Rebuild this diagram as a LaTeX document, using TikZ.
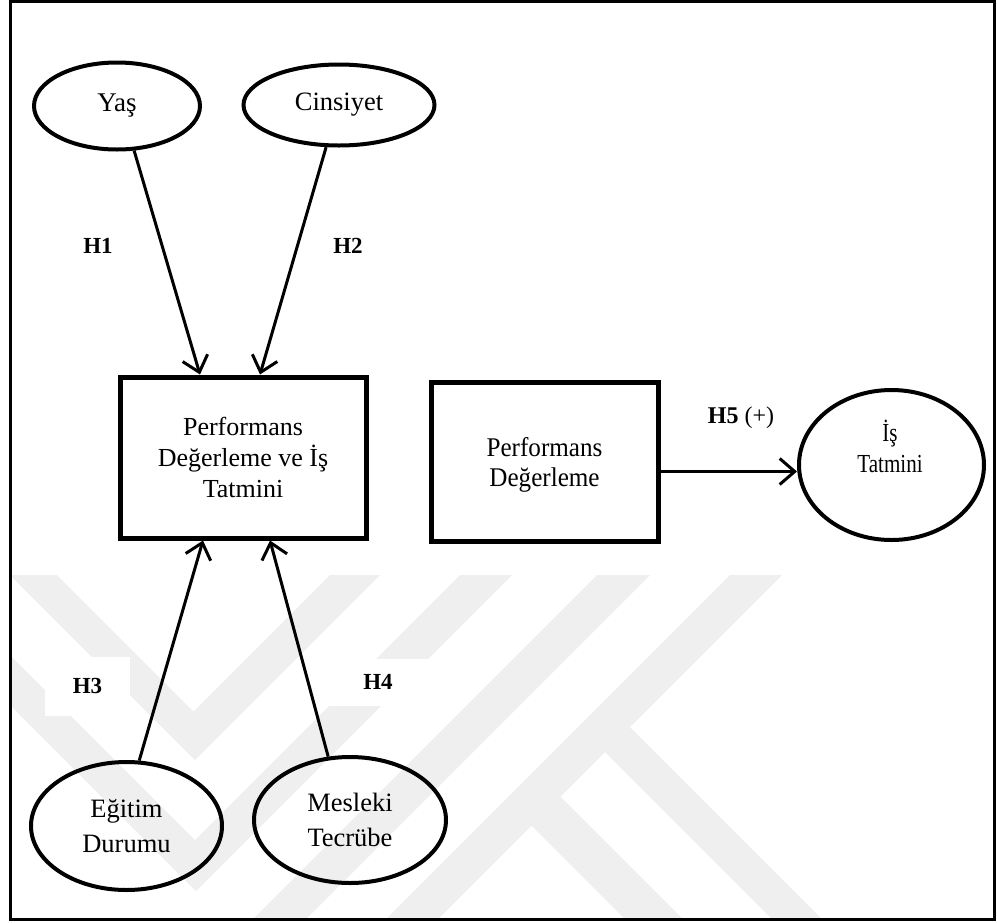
\documentclass[tikz,border=0pt]{standalone}
\usepackage{graphicx}
\usepackage{fontspec}
\setmainfont{Liberation Serif}
\usetikzlibrary{shapes.geometric,arrows.meta}
\definecolor{wm}{HTML}{EFEFEF}
\newcommand{\sqz}[2]{\scalebox{#1}[1]{\begin{tabular}{@{}c@{}}#2\end{tabular}}}
\begin{document}
\begin{tikzpicture}[x=1pt,y=-1pt,
  ell/.style={draw, ellipse, line width=4pt, inner sep=0pt, align=center},
  boxnode/.style={draw, rectangle, line width=5pt, inner sep=0pt, align=center},
  txt/.style={inner sep=0pt, align=center},
  arr/.style={line width=3pt, -{Straight Barb[length=15pt,width=26pt]}},
  hlab/.style={font=\fontsize{23}{27}\selectfont\bfseries, inner sep=0pt}]
\useasboundingbox (0,0) rectangle (997,922);
% watermark
\begin{scope}
  \clip (10,575) rectangle (994,918);
  \fill[wm] (10,575) -- (195,760) -- (380,575) -- (330,575) -- (193.5,711.5) -- (57,575) -- cycle;
  \fill[wm] (10,655) -- (195,840) -- (460,575) -- (512,575) -- (196,891) -- (10,705) -- cycle;
  \fill[wm] (597,575) -- (650,575) -- (250,975) -- (197,975) -- cycle;
  \fill[wm] (730,575) -- (782,575) -- (382,975) -- (330,975) -- cycle;
  \fill[wm] (630,727) -- (833,930) -- (783,930) -- (605,752) -- cycle;
  \fill[wm] (557,793) -- (694,930) -- (636,930) -- (528,822) -- cycle;
\end{scope}
% nodes
\node[ell, minimum width=166pt, minimum height=87pt, font=\fontsize{27}{31}\selectfont] (yas) at (117,106) {Yaş};
\node[ell, minimum width=191pt, minimum height=81pt, font=\fontsize{26.5}{31}\selectfont] (cins) at (339,105) {Cinsiyet};
\node[boxnode, minimum width=246pt, minimum height=161pt, font=\fontsize{26}{31}\selectfont] (box1) at (243,457.5) {Performans\\Değerleme ve İş\\Tatmini};
\node[boxnode, minimum width=227pt, minimum height=159pt] (box2) at (544.5,461.5) {};
\node[txt, font=\fontsize{27}{30}\selectfont] (box2txt) at (544.5,465) {\sqz{0.93}{Performans\\Değerleme}};
\node[ell, minimum width=185pt, minimum height=150pt] (is) at (891.5,465) {};
\node[txt, font=\fontsize{26}{31}\selectfont] (istxt) at (890,451) {\sqz{0.81}{İş\\Tatmini}};
\node[ell, minimum width=191pt, minimum height=128pt, font=\fontsize{26.5}{35}\selectfont] (egitim) at (126.5,826) {Eğitim\\Durumu};
\node[ell, minimum width=192pt, minimum height=126pt, font=\fontsize{26.5}{35}\selectfont] (mesleki) at (350,820) {Mesleki\\Tecrübe};
% labels
\node[hlab] (h1) at (98,246) {H1};
\node[hlab] (h2) at (348,246) {H2};
\node[hlab, fill=white, minimum width=85pt, minimum height=59pt] (h3) at (87.5,686) {H3};
\node[hlab, fill=white, minimum width=107pt, minimum height=47pt] (h4) at (378,682) {H4};
\node[txt, font=\fontsize{24}{28}\selectfont] (h5) at (741,418) {\textbf{H5} (+)};
% connectors
\draw[arr] (yas.-69) -- ([xshift=-43pt]box1.north);
\draw[arr] (cins.-107.7) -- ([xshift=17pt]box1.north);
\draw[arr] (egitim.79.6) -- ([xshift=-40pt]box1.south);
\draw[arr] (mesleki.109) -- ([xshift=27pt]box1.south);
\draw[arr] ([yshift=-10pt]box2.east) -- ([yshift=-10pt]box2.east -| is.west);
% frame
\draw[line width=3pt] (10,1.5) rectangle (994.5,919.5);
\end{tikzpicture}
\end{document}
